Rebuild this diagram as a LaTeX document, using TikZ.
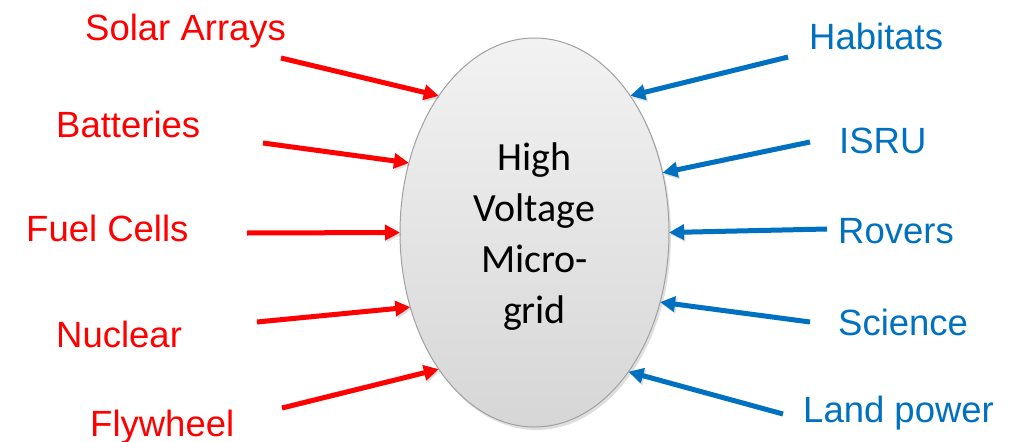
\documentclass[tikz,border=0pt]{standalone}
\usepackage{fontspec}
\setmainfont{Liberation Sans}
\newfontfamily\calibri{Carlito}
\usetikzlibrary{arrows.meta,shapes.geometric,shadows}
\definecolor{srcred}{RGB}{255,0,0}
\definecolor{loadblue}{RGB}{0,112,192}
\definecolor{gridedge}{RGB}{160,160,160}

\begin{document}
\begin{tikzpicture}[x=1pt,y=-1pt,
  lab/.style={anchor=base west,inner sep=0pt,font=\fontsize{36.5pt}{44pt}\selectfont},
  feed/.style={line width=5pt,-{Triangle[length=15pt,width=15pt]},
    preaction={draw=black,opacity=0.12,transform canvas={xshift=1.5pt,yshift=-2pt}}},
  hub/.style={ellipse,draw=gridedge,line width=1pt,top color=gray!10,bottom color=gray!32,
    minimum width=269pt,minimum height=389pt,outer sep=0pt,align=center,
    font=\calibri\fontsize{40pt}{51pt}\selectfont,
    drop shadow={shadow xshift=2pt,shadow yshift=-3pt,opacity=0.25}}]
\useasboundingbox (0,0) rectangle (1018,442);
\node[hub] (mg) at (534.5,232.5) {\rule{0pt}{36pt}High\\Voltage\\Micro-\\grid};
% sources
\foreach \nm/\lab/\lx/\ly/\tx/\ty/\ang in {solar/Solar Arrays/85/40/281/58/125.2,batt/Batteries/56/137/263/143/151,fuel/Fuel Cells/26/241/247/233/180,nuc/Nuclear/56/347/257/322/211.2,fly/Flywheel/90/436/282/408/235.4}{
\node[lab,text=srcred] (\nm) at (\lx,\ly) {\lab};
\coordinate (\nm-t) at (\tx,\ty);
\draw[feed,srcred] (\nm-t) -- (mg.\ang);}
% loads
\foreach \nm/\lab/\lx/\ly/\tx/\ty/\ang in {hab/Habitats/809/49/788/57/55.5,isru/ISRU/839/153/810/142/25.2,rov/Rovers/838/243/827/229/0,sci/Science/838/335/810/322/331.2,land/Land power/803/422/783/414/304.6}{
\node[lab,text=loadblue] (\nm) at (\lx,\ly) {\lab};
\coordinate (\nm-t) at (\tx,\ty);
\draw[feed,loadblue] (\nm-t) -- (mg.\ang);}
\end{tikzpicture}
\end{document}
